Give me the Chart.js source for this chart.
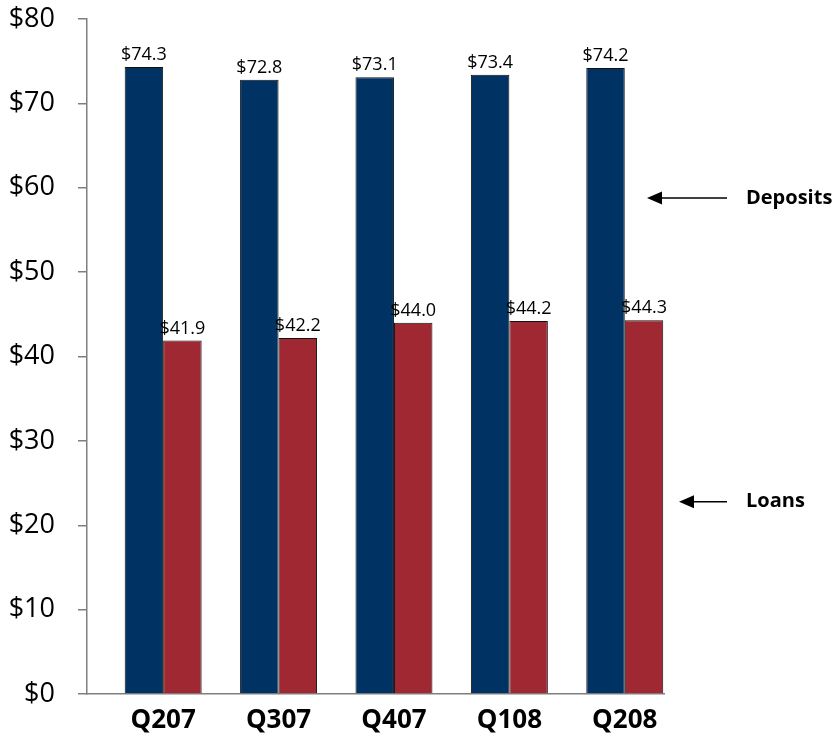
<!DOCTYPE html>
<html>
<head>
<meta charset="utf-8">
<script src="https://cdn.jsdelivr.net/npm/chart.js@4/dist/chart.umd.min.js"></script>
<style>
  html, body { margin: 0; padding: 0; background: #fff; }
  #wrap { width: 836px; height: 738px; position: relative; }
</style>
</head>
<body>
<div id="wrap"><canvas id="chart"></canvas></div>
<script>
const quarters = ['Q207', 'Q307', 'Q407', 'Q108', 'Q208'];
const deposits = [74.3, 72.8, 73.1, 73.4, 74.2];
const loans = [41.9, 42.2, 44.0, 44.2, 44.3];
const yTicks = [0, 10, 20, 30, 40, 50, 60, 70, 80];
// side notes pointing at the two series
const notes = [
    { label: 'Deposits', value: 58.8, tipOffset: -17 },
    { label: 'Loans', value: 22.8, tipOffset: 15 }
];

const FONT = "'Open Sans', 'Noto Sans', sans-serif";
const AXIS_GREY = '#7f7f7f';

// value labels above each bar
const barLabels = {
    id: 'barLabels',
    afterDatasetsDraw(chart) {
        const ctx = chart.ctx;
        ctx.save();
        ctx.font = '18px ' + FONT;
        ctx.fillStyle = '#000';
        ctx.textAlign = 'center';
        ctx.textBaseline = 'bottom';
        chart.data.datasets.forEach((ds, di) => {
            chart.getDatasetMeta(di).data.forEach((bar, i) => {
                ctx.fillText('$' + ds.data[i].y.toFixed(1), bar.x, bar.y - 3);
            });
        });
        ctx.restore();
    }
};

// arrows + captions on the right
const sideNotes = {
    id: 'sideNotes',
    afterDraw(chart) {
        const ctx = chart.ctx;
        const right = chart.chartArea.right;
        const yScale = chart.scales.y;
        ctx.save();
        notes.forEach(n => {
            const y = yScale.getPixelForValue(n.value);
            const tip = right + n.tipOffset;
            const tail = right + 63;
            ctx.strokeStyle = '#000';
            ctx.lineWidth = 1.5;
            ctx.beginPath();
            ctx.moveTo(tip + 10, y);
            ctx.lineTo(tail, y);
            ctx.stroke();
            ctx.fillStyle = '#000';
            ctx.beginPath();
            ctx.moveTo(tip, y);
            ctx.lineTo(tip + 15, y - 6.5);
            ctx.lineTo(tip + 15, y + 6.5);
            ctx.closePath();
            ctx.fill();
            ctx.font = 'bold 20px ' + FONT;
            ctx.textAlign = 'left';
            ctx.textBaseline = 'middle';
            ctx.fillText(n.label, right + 82, y);
        });
        ctx.restore();
    }
};

const ctx = document.getElementById('chart').getContext('2d');
const chart = new Chart(ctx, {
    type: 'bar',
    data: {
        datasets: [
            {
                label: 'Deposits',
                data: deposits.map((v, i) => ({ x: i, y: v })),
                backgroundColor: '#003263',
                borderColor: '#111',
                borderWidth: 1
            },
            {
                label: 'Loans',
                data: loans.map((v, i) => ({ x: i, y: v })),
                backgroundColor: '#a02832',
                borderColor: '#111',
                borderWidth: 1
            }
        ]
    },
    options: {
        responsive: true,
        maintainAspectRatio: false,
        animation: false,
        layout: { padding: { top: 19, right: 172, left: 0, bottom: 0 } },
        datasets: { bar: { categoryPercentage: 0.667, barPercentage: 1.0 } },
        plugins: { legend: { display: false }, tooltip: { enabled: false } },
        scales: {
            x: {
                type: 'linear',
                min: -0.66,
                max: 4.34,
                offset: false,
                grid: { display: true, drawOnChartArea: false, drawTicks: false, offset: false },
                border: { display: true, color: AXIS_GREY, width: 1.5 },
                afterBuildTicks: s => { s.ticks = quarters.map((q, i) => ({ value: i })); },
                afterFit: s => { s.height = 44; s.paddingLeft = 0; s.paddingRight = 0; },
                ticks: {
                    autoSkip: false,
                    maxRotation: 0,
                    padding: 11,
                    color: '#000',
                    font: { family: FONT, size: 26, weight: 'bold' },
                    callback: v => quarters[v]
                }
            },
            y: {
                min: 0,
                max: 80,
                afterBuildTicks: s => { s.ticks = yTicks.map(v => ({ value: v })); },
                afterFit: s => { s.width = 87; s.paddingTop = 0; s.paddingBottom = 0; },
                grid: { drawOnChartArea: false, drawTicks: true, tickLength: 9, color: AXIS_GREY, lineWidth: 1.5 },
                border: { display: true, color: AXIS_GREY, width: 1.5 },
                ticks: {
                    padding: 23,
                    color: '#000',
                    font: { family: FONT, size: 27 },
                    callback: v => '$' + v
                }
            }
        }
    },
    plugins: [barLabels, sideNotes]
});
</script>
</body>
</html>
